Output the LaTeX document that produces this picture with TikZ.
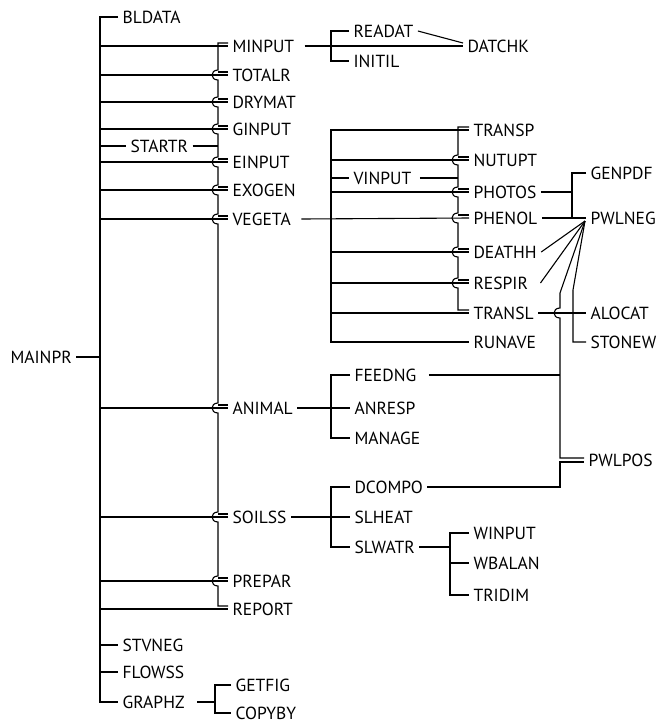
\documentclass[tikz,border=0pt]{standalone}
\usepackage{fontspec}
\setmainfont{PT Sans}
\usetikzlibrary{calc}

\tikzset{
  routine/.style={anchor=west, inner xsep=4pt, inner ysep=1pt, font=\fontsize{17.5}{20}\selectfont},
}

\begin{document}
\begin{tikzpicture}[x=1pt,y=-1pt,line width=1.1pt]
		\useasboundingbox (0,0) rectangle (660,724);
		
		% main program and the routines it calls
		\node[routine] (MAINPR) at (6,357) {MAINPR};
		\foreach \nm/\y in {BLDATA/17,STVNEG/645,FLOWSS/672,GRAPHZ/702}
		\node[routine] (\nm) at (118,\y) {\nm};
		\node[routine] (STARTR) at (126,146) {STARTR};
		\foreach \nm/\y in {MINPUT/46,TOTALR/75,DRYMAT/102,GINPUT/129,EINPUT/162,EXOGEN/190,VEGETA/219,ANIMAL/408,SOILSS/517,PREPAR/581,REPORT/609}
		\node[routine] (\nm) at (228,\y) {\nm};
		
		% second and third level
		\node[routine] (READAT) at (349,31) {READAT};
		\node[routine] (INITIL) at (349,61) {INITIL};
		\node[routine] (DATCHK) at (463,46) {DATCHK};
		\node[routine] (VINPUT) at (349,178) {VINPUT};
		\foreach \nm/\y in {TRANSP/130,NUTUPT/160,PHOTOS/192,PHENOL/218,DEATHH/252,RESPIR/283,TRANSL/313,RUNAVE/342}
		\node[routine] (\nm) at (469,\y) {\nm};
		\foreach \nm/\y in {GENPDF/173,PWLNEG/218,ALOCAT/313,STONEW/342}
		\node[routine] (\nm) at (586,\y) {\nm};
		\node[routine] (PWLPOS) at (584,460) {PWLPOS};
		\foreach \nm/\y in {FEEDNG/375,ANRESP/408,MANAGE/438,DCOMPO/487,SLHEAT/517,SLWATR/547}
		\node[routine] (\nm) at (350,\y) {\nm};
		\foreach \nm/\y in {WINPUT/533,WBALAN/563,TRIDIM/595}
		\node[routine] (\nm) at (469,\y) {\nm};
		\node[routine] (GETFIG) at (231,685) {GETFIG};
		\node[routine] (COPYBY) at (231,713) {COPYBY};
		
		% main bus
		\draw (MAINPR.east) -- (100,357);
		\draw (BLDATA.west) -- (100,17) -- (100,702) -- (GRAPHZ.west);
		\draw (100,645) -- (STVNEG.west);
		\draw (100,672) -- (FLOWSS.west);
		\foreach \nm/\y in {MINPUT/46,TOTALR/75,DRYMAT/102,GINPUT/129,EINPUT/162,EXOGEN/190,VEGETA/219,ANIMAL/408,SOILSS/517,PREPAR/581,REPORT/609}
		\draw (100,\y) -- (\nm.west);
		\draw (100,146) -- (STARTR.west);
		\draw (STARTR.east) -- (218,146);
		
		% bus of STARTR, hopping over the main lines
		\draw ([yshift=3pt]MINPUT.west) -- (218,43)
		\foreach \y in {75,102,129,162,190,219,408,517,581} {
			-- (218,\y-5) .. controls (210,\y-5) and (210,\y+5) .. (218,\y+5)
		} -- (218,606) -- ([yshift=3pt]REPORT.west);
		\foreach \nm/\y in {TOTALR/75,DRYMAT/102,GINPUT/129,EINPUT/162,EXOGEN/190,VEGETA/219,ANIMAL/408,SOILSS/517,PREPAR/581}
		\draw (218,\y-3) -- ([yshift=3pt]\nm.west);
		
		% MINPUT
		\draw ([xshift=6pt]MINPUT.east) -- (DATCHK.west);
		\draw (READAT.west) -- (331,31) -- (331,61) -- (INITIL.west);
		\draw (READAT.east) -- ([yshift=3pt]DATCHK.west);
		
		% VEGETA
		\draw (TRANSP.west) -- (331,130) -- (331,342) -- (RUNAVE.west);
		\foreach \nm/\y in {NUTUPT/160,PHOTOS/192,DEATHH/252,RESPIR/283,TRANSL/313}
		\draw (331,\y) -- (\nm.west);
		\draw ([xshift=6pt]VEGETA.east) -- (PHENOL.west);
		\draw (331,178) -- (VINPUT.west);
		\draw ([xshift=4pt]VINPUT.east) -- (458,178);
		\draw ([yshift=3pt]TRANSP.west) -- (458,127)
		\foreach \y in {160,192,218,252,283} {
			-- (458,\y-5) .. controls (450,\y-5) and (450,\y+5) .. (458,\y+5)
		} -- (458,310) -- ([yshift=3pt]TRANSL.west);
		\foreach \nm/\y in {NUTUPT/160,PHOTOS/192,PHENOL/218,DEATHH/252,RESPIR/283}
		\draw (458,\y-3) -- ([yshift=3pt]\nm.west);
		
		% PWLNEG and PWLPOS
		\coordinate (fan) at (585,221);
		\draw (PHOTOS.east) -- (572,192);
		\draw (GENPDF.west) -- (572,173) -- (572,218);
		\draw (PHENOL.east) -- (PWLNEG.west);
		\draw (DEATHH.east) -- (fan);
		\draw ([xshift=8pt]RESPIR.east) -- (fan);
		\draw (fan) -- (573,290) -- (573,342) -- (STONEW.west);
		\draw (TRANSL.east) -- (ALOCAT.west);
		\draw (fan) -- (560,293) -- (560,308) .. controls (552,308) and (552,318) .. (560,318)
		-- (560,458) -- ([yshift=2pt]PWLPOS.west);
		\draw ([xshift=8pt]FEEDNG.east) -- (560,375);
		\draw (DCOMPO.east) -- (560,487) -- (560,462) -- ([yshift=-2pt]PWLPOS.west);
		
		% ANIMAL and SOILSS
		\draw (ANIMAL.east) -- (ANRESP.west);
		\draw (FEEDNG.west) -- (331,375) -- (331,438) -- (MANAGE.west);
		\draw (SOILSS.east) -- (SLHEAT.west);
		\draw (DCOMPO.west) -- (331,487) -- (331,547) -- (SLWATR.west);
		\draw (SLWATR.east) -- (450,547);
		\draw (WINPUT.west) -- (450,533) -- (450,595) -- (TRIDIM.west);
		\draw (450,563) -- (WBALAN.west);
		
		% GRAPHZ
		\draw ([xshift=8pt]GRAPHZ.east) -- (215,702);
		\draw (GETFIG.west) -- (215,685) -- (215,713) -- (COPYBY.west);
		
\end{tikzpicture}
\end{document}
